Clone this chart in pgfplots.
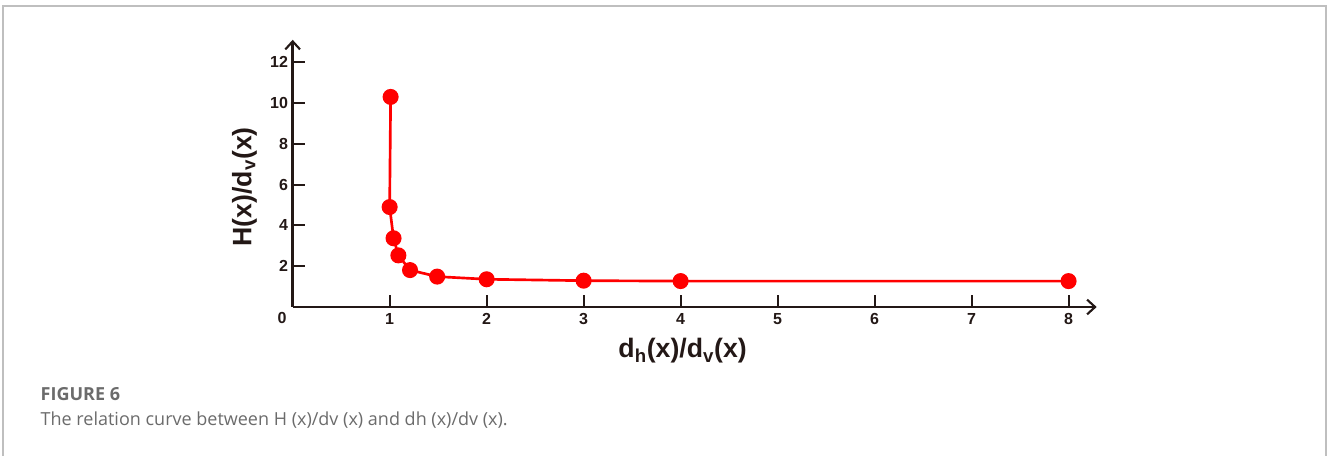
\documentclass[border=0pt]{standalone}
\usepackage{fontspec}
\setmainfont{Liberation Sans}
\newfontfamily\capfont{Open Sans}
\usepackage{pgfplots}
\pgfplotsset{compat=1.18}
\usetikzlibrary{arrows.meta}
\definecolor{axcol}{HTML}{231816}
\definecolor{capgrey}{HTML}{6B6B6B}
\begin{document}
\begin{tikzpicture}
\path[use as bounding box] (0,0) rectangle (995.25pt,342pt);
\draw[line width=1.1pt, color=black!25] (2.25pt,0) -- (2.25pt,337.5pt) -- (994.5pt,337.5pt) -- (994.5pt,0);
\begin{axis}[
  at={(219.5pt,111.75pt)}, anchor=origin,
  scale only axis, width=603pt, height=200.4pt,
  xmin=0, xmax=8.29, ymin=0, ymax=13.1,
  axis lines=left,
  axis line style={line width=1.9pt, color=axcol},
  x axis line style={-{Straight Barb[length=6pt,width=11pt,line width=1.6pt]}},
  y axis line style={-{Straight Barb[length=6pt,width=11pt,line width=1.6pt]}},
  xtick={1,2,3,4,5,6,7,8}, ytick={2,4,6,8,10,12},
  tick align=inside, major tick length=9pt,
  every tick/.style={line width=1.5pt, color=axcol},
  /pgf/number format/assume math mode=true,
  ticklabel style={font=\bfseries\fontsize{12}{14}\selectfont, color=axcol},
  xticklabel style={yshift=-1pt},
  xlabel={d\textsubscript{h}(x)/d\textsubscript{v}(x)},
  ylabel={H(x)/d\textsubscript{v}(x)},
  x label style={at={(axis description cs:0.485,-0.165)}, anchor=center, font=\bfseries\fontsize{20}{24}\selectfont, color=axcol},
  y label style={at={(axis description cs:-0.06,0.45)}, anchor=center, rotate=0, font=\bfseries\fontsize{20}{24}\selectfont, color=axcol},
  clip=false,
]
\addplot[color=red, line width=2pt, mark=*, mark size=5pt, mark options={fill=red, draw=red}]
coordinates {
 (1.01,10.3) (1.0,4.9) (1.04,3.37) (1.09,2.53) (1.21,1.81) (1.49,1.49) (2,1.36) (3,1.29) (4,1.27) (8,1.27)
};
\node[font=\bfseries\fontsize{12}{14}\selectfont, color=axcol] at ([xshift=-8pt,yshift=-8pt]axis cs:0,0) {0};
\end{axis}
\node[anchor=base west, font=\capfont\bfseries\fontsize{13.5}{16}\selectfont, color=capgrey] at (27pt,41.25pt) {FIGURE 6};
\node[anchor=base west, font=\capfont\fontsize{13.5}{16}\selectfont, color=capgrey] at (27pt,22.5pt) {The relation curve between H (x)/dv (x) and dh (x)/dv (x).};
\end{tikzpicture}
\end{document}
